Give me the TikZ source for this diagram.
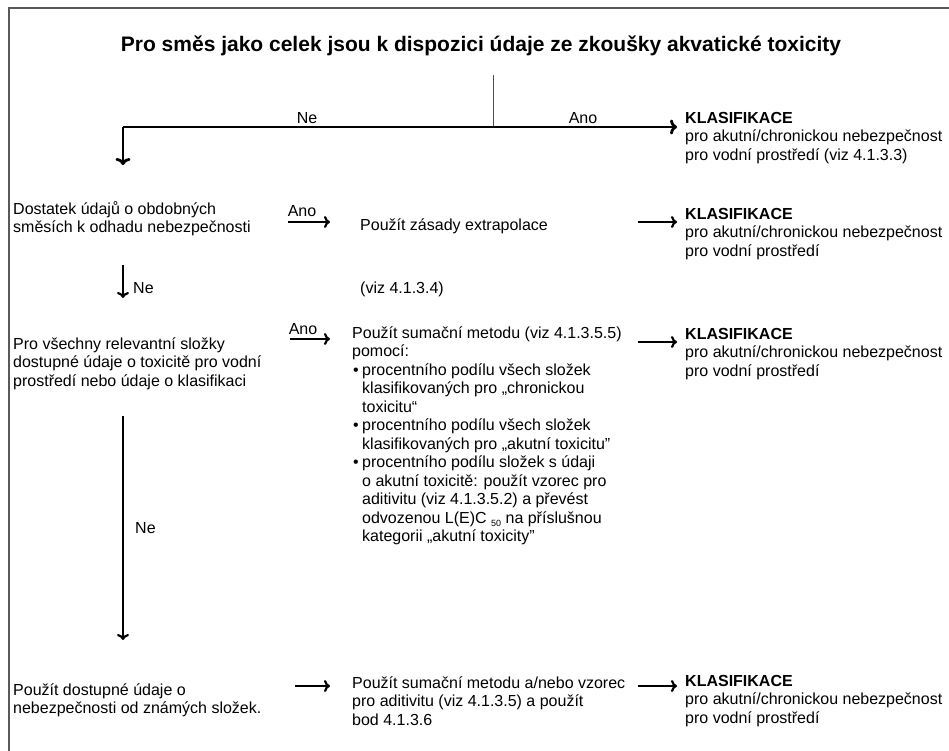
\documentclass[tikz,border=0pt]{standalone}
\usepackage{fontspec}
\setmainfont{Liberation Sans}
\usetikzlibrary{arrows.meta}
\newcommand{\fs}{\fontsize{16}{18.5}\selectfont}
\newcommand{\blt}{\makebox[10pt][l]{\hspace{1pt}•}}
\newcommand{\ind}{\hspace*{10pt}}
\tikzset{
  txt/.style={anchor=north west,inner sep=0pt,align=left,font=\fs},
  lab/.style={anchor=base,inner sep=0pt,font=\fs},
  ttl/.style={anchor=base,inner sep=0pt,font=\fontsize{21}{25}\selectfont\bfseries},
  ar/.style={-{Computer Modern Rightarrow[length=6pt,width=12pt]},line width=2.2pt},
  bigar/.style={-{Computer Modern Rightarrow[length=7pt,width=15pt]},line width=2.8pt},
  thin/.style={black!70,line width=1pt},
  frm/.style={black!65,line width=2pt},
}
\newcommand{\klas}{\textbf{KLASIFIKACE}\\pro akutní/chronickou nebezpečnost\\pro vodní prostředí}
\begin{document}
\begin{tikzpicture}[x=1pt,y=-1pt]
  \useasboundingbox (0,0) rectangle (949,751);
  % frame
  \draw[frm] (9,751) -- (9,8) -- (949,8);
  % title
  \node[ttl] (title) at (481,52) {Pro směs jako celek jsou k dispozici údaje ze zkoušky akvatické toxicity};
  \coordinate (top) at (493,75);
  \coordinate (split) at (493,127);
  \coordinate (corner) at (123,127);
  \coordinate (c0e) at (677,127);
  \coordinate (c0d) at (123,165);
  \draw[thin] (top) -- (split);
  \draw[bigar] (corner) -- (c0e);
  \draw[bigar] (corner) -- (c0d);
  \node[lab] (ne0) at (307,124) {Ne};
  \node[lab] (ano0) at (583,124) {Ano};
  \node[txt] (klas0) at (685,110) {\strut\textbf{KLASIFIKACE}\\pro akutní/chronickou nebezpečnost\\pro vodní prostředí (viz 4.1.3.3)};

  % row 1
  \node[txt] (q1) at (13,201) {\strut Dostatek údajů o obdobných\\směsích k odhadu nebezpečnosti};
  \node[lab] (ano1) at (302,216) {Ano};
  \coordinate (a1s) at (288,222);
  \coordinate (a1e) at (330,222);
  \draw[ar] (a1s) -- (a1e);
  \node[txt] (extra) at (360,217) {\strut Použít zásady extrapolace};
  \coordinate (b1s) at (638,222);
  \coordinate (b1e) at (677,222);
  \draw[ar] (b1s) -- (b1e);
  \node[txt] (klas1) at (685,206) {\strut\klas};
  \coordinate (d1s) at (123,265);
  \coordinate (d1e) at (123,298);
  \draw[ar] (d1s) -- (d1e);
  \node[lab,anchor=base west] (ne1) at (133,293) {Ne};
  \node[lab,anchor=base west] (viz) at (360,293) {(viz 4.1.3.4)};

  % row 2
  \node[txt] (q2) at (13,336) {\strut Pro všechny relevantní složky\\dostupné údaje o toxicitě pro vodní\\prostředí nebo údaje o klasifikaci};
  \node[lab] (ano2) at (303,334) {Ano};
  \coordinate (a2s) at (290,339);
  \coordinate (a2e) at (330,339);
  \draw[ar] (a2s) -- (a2e);
  \node[txt] (suma) at (352,325) {\strut Použít sumační metodu (viz 4.1.3.5.5)\\
    pomocí:\\
    \blt procentního podílu všech složek\\
    \ind klasifikovaných pro „chronickou\\
    \ind toxicitu“\\
    \blt procentního podílu všech složek\\
    \ind klasifikovaných pro „akutní toxicitu”\\
    \blt procentního podílu složek s údaji\\
    \ind o akutní toxicitě: použít vzorec pro\\
    \ind aditivitu (viz 4.1.3.5.2) a převést\\
    \ind odvozenou L(E)C \raisebox{-3pt}{\fontsize{9}{9}\selectfont 50} na příslušnou\\
    \ind kategorii „akutní toxicity”};
  \coordinate (b2s) at (638,342);
  \coordinate (b2e) at (677,342);
  \draw[ar] (b2s) -- (b2e);
  \node[txt] (klas2) at (685,326) {\strut\klas};
  \coordinate (d2s) at (123,416);
  \coordinate (d2e) at (123,640);
  \draw[ar] (d2s) -- (d2e);
  \node[lab,anchor=base west] (ne2) at (135,533) {Ne};

  % row 3
  \node[txt] (q3) at (13,682) {\strut Použít dostupné údaje o\\nebezpečnosti od známých složek.};
  \coordinate (a3s) at (295,686);
  \coordinate (a3e) at (330,686);
  \draw[ar] (a3s) -- (a3e);
  \node[txt] (mix) at (352,675) {\strut Použít sumační metodu a/nebo vzorec\\pro aditivitu (viz 4.1.3.5) a použít\\bod 4.1.3.6};
  \coordinate (b3s) at (638,686);
  \coordinate (b3e) at (677,686);
  \draw[ar] (b3s) -- (b3e);
  \node[txt] (klas3) at (685,673) {\strut\klas};
\end{tikzpicture}
\end{document}
